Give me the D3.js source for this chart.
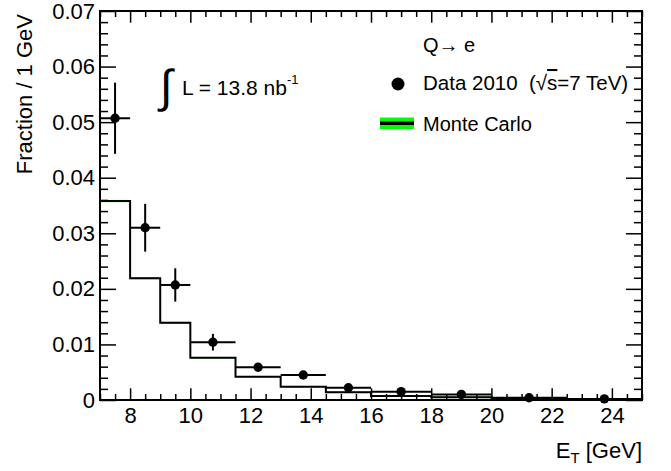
<!DOCTYPE html>
<html>
<head>
<meta charset="utf-8">
<script src="https://cdn.jsdelivr.net/npm/d3@7"></script>
<style>
  html, body { margin: 0; padding: 0; background: #fff; }
  svg { display: block; }
  text { font-family: "Liberation Sans", Arial, sans-serif; fill: #000; }
</style>
</head>
<body>
<svg id="chart" width="671" height="471"></svg>
<script>
// ---- data ----
const binEdges = [7, 8, 9, 10, 11.5, 13, 14.5, 16, 18, 20, 22.5, 25];
const dataValues = [0.0507, 0.0310, 0.0207, 0.0104, 0.0059, 0.0045, 0.0022, 0.0015, 0.0010, 0.0004, 0.0002];
const dataErrors = [0.0064, 0.0043, 0.0030, 0.0015, 0.0006, 0.0005, 0.0004, 0.0003, 0.0003, 0.0002, 0.0001];
const mcValues = [0.0358, 0.0219, 0.0139, 0.0076, 0.0042, 0.0024, 0.0014, 0.00072, 0.0005, 0.0002, 0.00005];
const mcErrors = [0.0002, 0.00015, 0.00015, 0.0001, 0.0001, 0.0001, 0.0001, 0.0001, 0.0001, 0.00005, 0.00003];
const xMajorTicks = [8, 10, 12, 14, 16, 18, 20, 22, 24];
const yMajorTicks = [0, 0.01, 0.02, 0.03, 0.04, 0.05, 0.06, 0.07];
const yTickLabels = ["0", "0.01", "0.02", "0.03", "0.04", "0.05", "0.06", "0.07"];
const legendLabels = ["Q\u2192 e", "Data 2010  (\u221A", "s", "=7 TeV)", "Monte Carlo"];

// ---- layout ----
const L = 100, R = 642, T = 11, B = 400;
const svg = d3.select("#chart");
const x = d3.scaleLinear().domain([7, 25]).range([L, R]);
const y = d3.scaleLinear().domain([0, 0.07]).range([B, T]);

const xMinor = d3.range(7, 25.001, 0.5).filter(v => xMajorTicks.indexOf(v) < 0);
const yMinor = d3.range(0, 0.0701, 0.002).map(v => +v.toFixed(4)).filter(v => Math.abs(Math.round(v * 100) - v * 100) > 1e-6);

function styleAxis(g) {
  g.select(".domain").remove();
  g.selectAll(".tick line").attr("stroke", "#000").attr("stroke-width", 1.5);
  g.attr("font-family", "Liberation Sans, Arial, sans-serif").attr("font-size", 22);
  g.selectAll(".tick text").attr("fill", "#000");
}

// bottom axis
svg.append("g").attr("transform", `translate(0,${B})`)
  .call(d3.axisBottom(x).tickValues(xMajorTicks).tickFormat(d3.format("d")).tickSizeInner(-11.7).tickSizeOuter(0).tickPadding(7))
  .call(styleAxis);
svg.append("g").attr("transform", `translate(0,${B})`)
  .call(d3.axisBottom(x).tickValues(xMinor).tickFormat("").tickSizeInner(-6).tickSizeOuter(0))
  .call(styleAxis);
// top axis
svg.append("g").attr("transform", `translate(0,${T})`)
  .call(d3.axisTop(x).tickValues(xMajorTicks).tickFormat("").tickSizeInner(-11.7).tickSizeOuter(0))
  .call(styleAxis);
svg.append("g").attr("transform", `translate(0,${T})`)
  .call(d3.axisTop(x).tickValues(xMinor).tickFormat("").tickSizeInner(-6).tickSizeOuter(0))
  .call(styleAxis);
// left axis
svg.append("g").attr("transform", `translate(${L},0)`)
  .call(d3.axisLeft(y).tickValues(yMajorTicks).tickFormat((d, i) => yTickLabels[i]).tickSizeInner(-16).tickSizeOuter(0).tickPadding(5))
  .call(styleAxis);
svg.append("g").attr("transform", `translate(${L},0)`)
  .call(d3.axisLeft(y).tickValues(yMinor).tickFormat("").tickSizeInner(-8).tickSizeOuter(0))
  .call(styleAxis);
// right axis
svg.append("g").attr("transform", `translate(${R},0)`)
  .call(d3.axisRight(y).tickValues(yMajorTicks).tickFormat("").tickSizeInner(-16).tickSizeOuter(0))
  .call(styleAxis);
svg.append("g").attr("transform", `translate(${R},0)`)
  .call(d3.axisRight(y).tickValues(yMinor).tickFormat("").tickSizeInner(-8).tickSizeOuter(0))
  .call(styleAxis);

// ---- MC histogram ----
const bins = mcValues.map((v, i) => ({ x0: binEdges[i], x1: binEdges[i + 1], v: v, e: mcErrors[i] }));
svg.append("g").selectAll("rect").data(bins).join("rect")
  .attr("x", d => x(d.x0)).attr("width", d => x(d.x1) - x(d.x0))
  .attr("y", d => y(d.v + d.e)).attr("height", d => Math.max(y(d.v - d.e) - y(d.v + d.e), 0))
  .attr("fill", "#00dd00");
const stepPts = [];
bins.forEach(d => { stepPts.push([d.x0, d.v]); stepPts.push([d.x1, d.v]); });
stepPts.unshift([7, 0]);
svg.append("path")
  .attr("d", d3.line().x(d => x(d[0])).y(d => y(d[1]))(stepPts))
  .attr("fill", "none").attr("stroke", "#000").attr("stroke-width", 2);

// ---- data points ----
const pts = dataValues.map((v, i) => ({ x0: binEdges[i], x1: binEdges[i + 1], xc: (binEdges[i] + binEdges[i + 1]) / 2, v: v, e: dataErrors[i] }));
const gp = svg.append("g");
gp.selectAll("line.h").data(pts).join("line").attr("class", "h")
  .attr("x1", d => x(d.x0)).attr("x2", d => x(d.x1))
  .attr("y1", d => y(d.v)).attr("y2", d => y(d.v))
  .attr("stroke", "#000").attr("stroke-width", 2);
gp.selectAll("line.v").data(pts).join("line").attr("class", "v")
  .attr("x1", d => x(d.xc)).attr("x2", d => x(d.xc))
  .attr("y1", d => y(d.v - d.e)).attr("y2", d => y(d.v + d.e))
  .attr("stroke", "#000").attr("stroke-width", 2);
gp.selectAll("circle").data(pts).join("circle")
  .attr("cx", d => x(d.xc)).attr("cy", d => y(d.v)).attr("r", 4.7).attr("fill", "#000");

// ---- frame ----
svg.append("rect").attr("x", L).attr("y", T).attr("width", R - L).attr("height", B - T)
  .attr("fill", "none").attr("stroke", "#000").attr("stroke-width", 2);

// ---- axis titles ----
svg.append("text").attr("transform", `translate(32,14) rotate(-90)`)
  .attr("text-anchor", "end").attr("font-size", 22).text("Fraction / 1 GeV");
const xt = svg.append("text").attr("x", R).attr("y", 458).attr("text-anchor", "end").attr("font-size", 22);
xt.append("tspan").text("E");
xt.append("tspan").attr("font-size", 15).attr("dy", 5).text("T");
xt.append("tspan").attr("dy", -5).text(" [GeV]");

// ---- luminosity ----
svg.append("text").attr("x", 160).attr("y", 102).attr("font-size", 46).text("\u222B");
const lt = svg.append("text").attr("x", 182).attr("y", 95).attr("font-size", 21);
lt.append("tspan").text("L = 13.8 nb");
lt.append("tspan").attr("font-size", 13).attr("dy", -11).text("-1");

// ---- legend ----
svg.append("text").attr("x", 423).attr("y", 52).attr("font-size", 20).text(legendLabels[0]);
svg.append("circle").attr("cx", 398).attr("cy", 84).attr("r", 6.5).attr("fill", "#000");
const dt = svg.append("text").attr("x", 423).attr("y", 90).attr("font-size", 20.5).style("white-space", "pre");
dt.append("tspan").text(legendLabels[1]);
dt.append("tspan").style("text-decoration", "overline").text(legendLabels[2]);
dt.append("tspan").text(legendLabels[3]);
svg.append("rect").attr("x", 380).attr("y", 117.5).attr("width", 34).attr("height", 11.5).attr("fill", "#00ff00");
svg.append("line").attr("x1", 380).attr("x2", 414).attr("y1", 123.3).attr("y2", 123.3).attr("stroke", "#000").attr("stroke-width", 3.5);
svg.append("text").attr("x", 423).attr("y", 131).attr("font-size", 20).text(legendLabels[4]);
</script>
</body>
</html>
